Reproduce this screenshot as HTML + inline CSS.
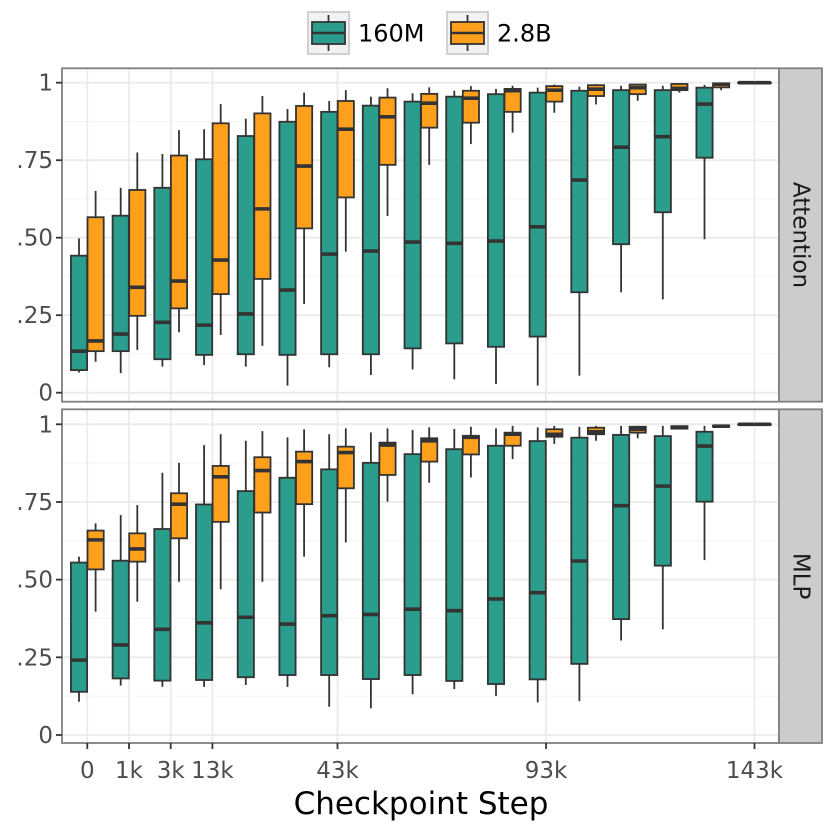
<!DOCTYPE html>
<html><head><meta charset="utf-8"><style>
html,body{margin:0;padding:0;background:#fff;}
svg{display:block;font-family:"DejaVu Sans","Liberation Sans",sans-serif;}
</style></head><body>
<svg id="chart" width="830" height="830" viewBox="0 0 830 830" xmlns="http://www.w3.org/2000/svg"></svg>
<script>
const categories=["0","1k","3k","13k","c4","c5","43k","c7","c8","c9","c10","93k","c12","c13","c14","c15","143k"];
const tickCats=[0,1,2,3,6,11,16];
const tickLabels=["0","1k","3k","13k","43k","93k","143k"];
const yTicks=[0,0.25,0.5,0.75,1];
const yTickLabels=["0",".25",".50",".75","1"];
const seriesNames=["160M","2.8B"];
// [low, q1, median, q3, high]
const attn160M=[[0.065,0.073,0.134,0.442,0.498],[0.063,0.134,0.189,0.571,0.661],[0.084,0.108,0.227,0.661,0.77],[0.089,0.122,0.218,0.753,0.85],[0.084,0.124,0.254,0.828,0.884],[0.023,0.122,0.331,0.874,0.915],[0.082,0.124,0.447,0.906,0.941],[0.057,0.124,0.457,0.926,0.955],[0.075,0.143,0.486,0.939,0.966],[0.043,0.159,0.482,0.955,0.974],[0.028,0.148,0.489,0.963,0.98],[0.023,0.181,0.535,0.968,0.984],[0.055,0.324,0.686,0.974,0.987],[0.324,0.479,0.792,0.976,0.99],[0.301,0.582,0.826,0.976,0.99],[0.495,0.758,0.931,0.984,0.993],[0.998,0.999,1,1,1]];
const attn28B=[[0.10,0.134,0.167,0.566,0.651],[0.138,0.248,0.34,0.654,0.775],[0.195,0.272,0.36,0.765,0.847],[0.186,0.318,0.428,0.869,0.931],[0.151,0.367,0.593,0.901,0.957],[0.286,0.53,0.731,0.925,0.968],[0.455,0.63,0.85,0.941,0.976],[0.57,0.735,0.89,0.952,0.982],[0.735,0.855,0.934,0.964,0.985],[0.802,0.871,0.95,0.974,0.989],[0.839,0.906,0.974,0.98,0.99],[0.903,0.939,0.976,0.989,0.994],[0.93,0.957,0.979,0.992,0.995],[0.942,0.963,0.984,0.994,0.996],[0.968,0.976,0.982,0.996,0.998],[0.976,0.985,0.995,0.998,1],[0.998,0.999,1,1,1]];
const mlp160M=[[0.107,0.139,0.241,0.555,0.574],[0.159,0.182,0.29,0.561,0.708],[0.155,0.175,0.34,0.663,0.844],[0.155,0.177,0.361,0.742,0.933],[0.161,0.186,0.379,0.785,0.947],[0.155,0.193,0.357,0.828,0.958],[0.091,0.193,0.384,0.855,0.968],[0.086,0.18,0.388,0.876,0.974],[0.131,0.193,0.405,0.904,0.982],[0.148,0.174,0.4,0.92,0.985],[0.126,0.164,0.438,0.931,0.987],[0.105,0.179,0.458,0.946,0.99],[0.109,0.229,0.56,0.957,0.992],[0.304,0.373,0.738,0.966,0.995],[0.34,0.545,0.801,0.962,0.995],[0.563,0.751,0.93,0.976,0.995],[0.998,0.999,1,1,1]];
const mlp28B=[[0.397,0.533,0.628,0.658,0.681],[0.429,0.558,0.599,0.649,0.74],[0.493,0.633,0.743,0.778,0.876],[0.469,0.686,0.831,0.866,0.968],[0.493,0.716,0.851,0.894,0.978],[0.574,0.743,0.88,0.912,0.984],[0.62,0.794,0.909,0.928,0.987],[0.751,0.837,0.933,0.941,0.987],[0.812,0.88,0.947,0.955,0.99],[0.829,0.903,0.958,0.963,0.992],[0.888,0.931,0.968,0.973,0.995],[0.937,0.96,0.968,0.984,0.995],[0.947,0.968,0.976,0.989,0.995],[0.955,0.973,0.984,0.992,0.995],[0.984,0.986,0.99,0.994,0.996],[0.99,0.992,0.994,0.996,0.997],[0.998,0.999,1,1,1]];
const colors=["#2a9d8c","#ffa01c"];

const NS="http://www.w3.org/2000/svg";
const svg=document.getElementById('chart');
function mk(tag,attrs,parent){const e=document.createElementNS(NS,tag);for(const k in attrs)e.setAttribute(k,attrs[k]);(parent||svg).appendChild(e);return e;}
const X0=62,X1=779;
function xScale(i){return 87.3+41.7*i;}
const panels=[{name:"Attention",top:68.3,bottom:401.7,y0:392.7,y1:82.7,data:[attn160M,attn28B]},
              {name:"MLP",top:409.3,bottom:743,y0:735,y1:424.3,data:[mlp160M,mlp28B]}];
panels.forEach((p,pi)=>{
  const y=v=>p.y0+(p.y1-p.y0)*v;
  const g=mk('g',{});
  
  
  for(let k=0;k<4;k++){const v=0.125+0.25*k;
    const l=mk('line',{x1:X0,x2:X1,y1:y(v),y2:y(v),stroke:'#f4f4f4','stroke-width':1},g);
    
    }
  yTicks.forEach(v=>{const l=mk('line',{x1:X0,x2:X1,y1:y(v),y2:y(v),stroke:'#ebebeb','stroke-width':1.8},g);
    
    });
  tickCats.forEach(c=>{const l=mk('line',{x1:xScale(c),x2:xScale(c),y1:p.top,y2:p.bottom,stroke:'#ebebeb','stroke-width':1.8},g);
    
    });
  p.data.forEach((ser,si)=>{
    ser.forEach((d,ci)=>{
      const cx=xScale(ci)+(si===0?-8.3:8.3), w=16.2;
      const bg=mk('g',{},g);
      
      
      mk('line',{x1:cx,x2:cx,y1:y(d[0]),y2:y(d[1]),stroke:'#333','stroke-width':1.8},bg);
      mk('line',{x1:cx,x2:cx,y1:y(d[3]),y2:y(d[4]),stroke:'#333','stroke-width':1.8},bg);
      mk('rect',{x:cx-w/2,y:y(d[3]),width:w,height:Math.max(0.1,y(d[1])-y(d[3])),fill:colors[si],stroke:'#333','stroke-width':1.8},bg);
      mk('line',{x1:cx-w/2,x2:cx+w/2,y1:y(d[2]),y2:y(d[2]),stroke:'#333','stroke-width':3.6},bg);
    });
  });
  const b=mk('rect',{x:X0,y:p.top,width:X1-X0,height:p.bottom-p.top,fill:'none',stroke:'#808080','stroke-width':1.8},g);
  
  
  yTicks.forEach((v,i)=>{
    mk('line',{x1:56,x2:62,y1:y(v),y2:y(v),stroke:'#333','stroke-width':1.8},g);
    const t=mk('text',{x:53,y:y(v)+8,'text-anchor':'end','font-size':23,fill:'#4d4d4d'},g);
    t.textContent=yTickLabels[i];
    
    
  });
  const s=mk('rect',{x:X1,y:p.top,width:43,height:p.bottom-p.top,fill:'#cccccc',stroke:'#808080','stroke-width':1.8},g);
  
  
  const mid=(p.top+p.bottom)/2;
  const st=mk('text',{x:X1+21.5,y:mid,'text-anchor':'middle','dominant-baseline':'central','font-size':23,fill:'#1a1a1a',transform:`rotate(90 ${X1+21.5} ${mid})`},g);
  st.textContent=p.name;
  
  
});
tickCats.forEach((c,i)=>{
  mk('line',{x1:xScale(c),x2:xScale(c),y1:743,y2:749,stroke:'#333','stroke-width':1.8});
  const t=mk('text',{x:xScale(c),y:778,'text-anchor':'middle','font-size':23,fill:'#4d4d4d'});
  t.textContent=tickLabels[i];
  
  
});
const xt=mk('text',{x:421,y:814,'text-anchor':'middle','font-size':31,fill:'#000'});
xt.textContent="Checkpoint Step";


[[308,"160M",358],[447,"2.8B",497]].forEach((L,i)=>{
  const g=mk('g',{});
  
  
  mk('rect',{x:L[0],y:12,width:41,height:42,fill:'#f2f2f2',stroke:'#d0d0d0','stroke-width':2},g);
  const cx=L[0]+20.5;
  mk('line',{x1:cx,x2:cx,y1:15,y2:51,stroke:'#333','stroke-width':1.8},g);
  mk('rect',{x:L[0]+4,y:22,width:33,height:22,fill:colors[i],stroke:'#333','stroke-width':1.8},g);
  mk('line',{x1:L[0]+4,x2:L[0]+37,y1:33,y2:33,stroke:'#333','stroke-width':2.5},g);
  const t=mk('text',{x:L[2],y:41.5,'font-size':24,fill:'#000'},g);
  t.textContent=L[1];
});
</script>
</body></html>
